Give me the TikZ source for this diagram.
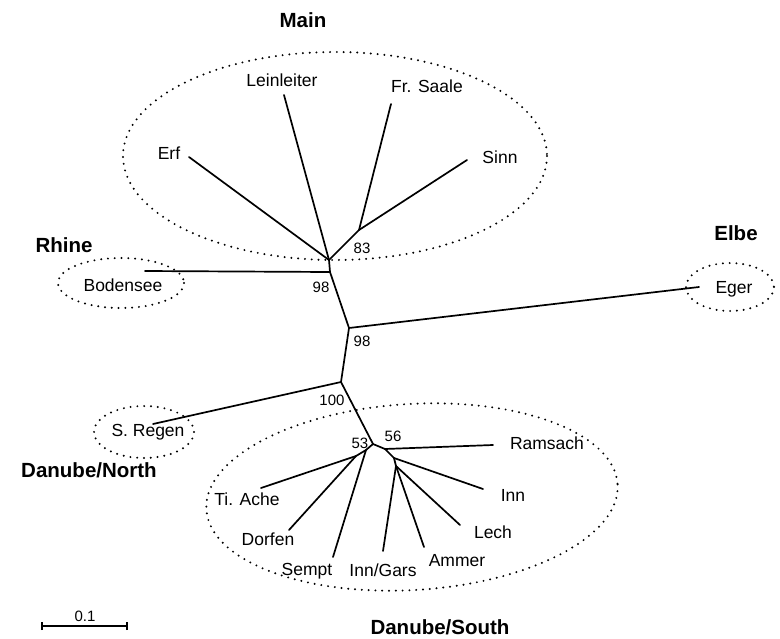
\documentclass[tikz,border=0pt]{standalone}
\usepackage{fontspec}
\setmainfont{Liberation Sans}
\begin{document}
\begin{tikzpicture}[x=1pt,y=-1pt,
  branch/.style={line width=1.7pt, line cap=round, line join=round},
  grp/.style={line width=2.2pt, dash pattern=on 0pt off 6.8pt, line cap=round},
  leaf/.style={inner sep=0pt, font=\fontsize{17.5}{20}\selectfont},
  boot/.style={inner sep=0pt, font=\fontsize{15}{17}\selectfont},
  region/.style={inner sep=0pt, font=\fontsize{20.5}{23}\selectfont\bfseries}]
\useasboundingbox (0,0) rectangle (780,638);
% internal vertices
\coordinate (A) at (329,260);
\coordinate (B) at (359,230);
\coordinate (R) at (330,272);
\coordinate (C) at (349,328);
\coordinate (D) at (341,382);
\coordinate (E) at (373,444);
\coordinate (F) at (385,449);
\coordinate (G) at (394,458);
\coordinate (H) at (396,466);
\coordinate (J) at (366,450);
\coordinate (K) at (356,456);
% leaf ends
\coordinate (erf) at (189,157);
\coordinate (lein) at (284,95);
\coordinate (saale) at (391,104);
\coordinate (sinn) at (467,160);
\coordinate (boden) at (145,271);
\coordinate (eger) at (699,287);
\coordinate (regen) at (153,424);
\coordinate (rams) at (493,445);
\coordinate (inn) at (483,489);
\coordinate (lech) at (460,525);
\coordinate (ammer) at (424,547);
\coordinate (gars) at (383,551);
\coordinate (sempt) at (333,557);
\coordinate (dorf) at (289,530);
\coordinate (ache) at (261,488);
% group ellipses
\draw[grp] (335,156) ellipse [x radius=212, y radius=104];
\draw[grp] (121,283) ellipse [x radius=63, y radius=25];
\draw[grp] (730,287) ellipse [x radius=44, y radius=24];
\draw[grp] (144,432) ellipse [x radius=50, y radius=26];
\draw[grp, rotate around={3.5:(412,497)}] (412,497) ellipse [x radius=206, y radius=93];
% tree
\draw[branch] (A) -- (erf);
\draw[branch] (A) -- (lein);
\draw[branch] (A) -- (B);
\draw[branch] (B) -- (saale);
\draw[branch] (B) -- (sinn);
\draw[branch] (A) -- (R);
\draw[branch] (R) -- (boden);
\draw[branch] (R) -- (C);
\draw[branch] (C) -- (eger);
\draw[branch] (C) -- (D);
\draw[branch] (D) -- (regen);
\draw[branch] (D) -- (E);
\draw[branch] (E) -- (F);
\draw[branch] (F) -- (rams);
\draw[branch] (F) -- (G);
\draw[branch] (G) -- (inn);
\draw[branch] (G) -- (H);
\draw[branch] (H) -- (lech);
\draw[branch] (H) -- (ammer);
\draw[branch] (H) -- (gars);
\draw[branch] (E) -- (J);
\draw[branch] (J) -- (sempt);
\draw[branch] (J) -- (K);
\draw[branch] (K) -- (dorf);
\draw[branch] (K) -- (ache);
% leaf labels
\node[leaf] (tErf) at (169,153) {Erf};
\node[leaf] (tLein) at (282,80) {Leinleiter};
\node[leaf] (tSaale) at (427,86) {Fr. Saale};
\node[leaf] (tSinn) at (500,157) {Sinn};
\node[leaf] (tBoden) at (123,285) {Bodensee};
\node[leaf] (tEger) at (734,289) {Eger};
\node[leaf] (tRegen) at (148,432) {S. Regen};
\node[leaf] (tRams) at (547,443) {Ramsach};
\node[leaf] (tInn) at (513,495) {Inn};
\node[leaf] (tLech) at (493,532) {Lech};
\node[leaf] (tAmmer) at (457,561) {Ammer};
\node[leaf] (tGars) at (383,570) {Inn/Gars};
\node[leaf] (tSempt) at (307,571) {Sempt};
\node[leaf] (tDorf) at (268,539) {Dorfen};
\node[leaf] (tAche) at (247,499) {Ti. Ache};
% bootstrap values
\node[boot] (b83) at (362,248) {83};
\node[boot] (b98a) at (321,287) {98};
\node[boot] (b98b) at (362,341) {98};
\node[boot] (b100) at (332,400) {100};
\node[boot] (b53) at (360,443) {53};
\node[boot] (b56) at (393,436) {56};
% region labels
\node[region] (gMain) at (303,20) {Main};
\node[region] (gRhine) at (64,245) {Rhine};
\node[region] (gElbe) at (736,233) {Elbe};
\node[region] (gDN) at (89,470) {Danube/North};
\node[region] (gDS) at (440,627) {Danube/South};
% scale bar
\coordinate (s1) at (42,626);
\coordinate (s2) at (127,626);
\draw[line width=1.5pt] (s1) -- (s2);
\draw[line width=1.5pt] ([yshift=-4pt]s1) -- ([yshift=4pt]s1);
\draw[line width=1.5pt] ([yshift=-4pt]s2) -- ([yshift=4pt]s2);
\node[boot] (scl) at (85,616) {0.1};
\end{tikzpicture}
\end{document}
